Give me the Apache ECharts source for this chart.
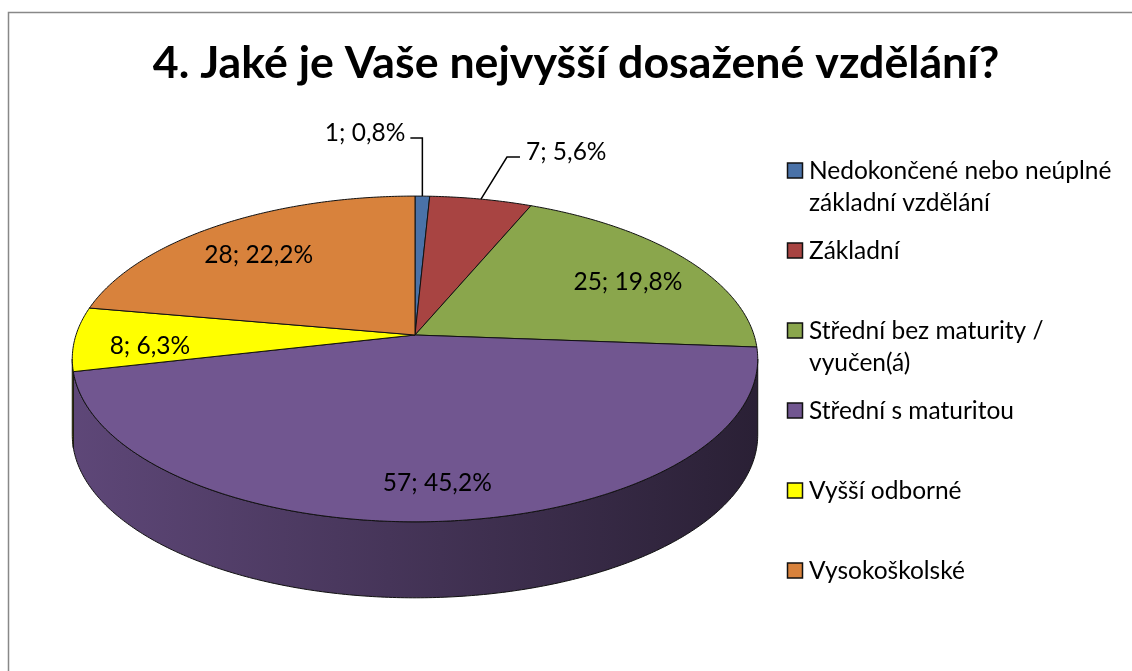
<!DOCTYPE html>
<html><head><meta charset="utf-8">
<script src="https://cdn.jsdelivr.net/npm/echarts@6/dist/echarts.min.js"></script>
<style>html,body{margin:0;padding:0;background:#fff}#c{width:1132px;height:671px}</style>
</head><body><div id="c"></div>
<script>
const titleText = '4. Jaké je Vaše nejvyšší dosažené vzdělání?';
const categories = ['Nedokončené nebo neúplné\nzákladní vzdělání', 'Základní', 'Střední bez maturity /\nvyučen(á)', 'Střední s maturitou', 'Vyšší odborné', 'Vysokoškolské'];
const counts = [1, 7, 25, 57, 8, 28];
const colors = ['#4a72a8', '#a84442', '#8aa64c', '#715690', '#ffff00', '#d8823c'];

const FONT = 'Lato, "Open Sans", sans-serif';
const total = counts.reduce((a, b) => a + b, 0);
const cum = [0];
counts.forEach((v, i) => cum.push(cum[i] + v));
const ang = k => cum[k] / total * Math.PI * 2;

// perspective projection of the pie disk
const CX = 415, A = 339, PA = 110.1, PB = 335, PC = -0.147, DEPTH = 76;
function proj(r, th, dy) {
  const u = r * Math.sin(th), v = -r * Math.cos(th);
  const w = 1 + PC * v;
  return [CX + A * u / w, (PA * v + PB) / w + (dy || 0)];
}
const K = -PC;
const thR = Math.acos(-K), thL = 2 * Math.PI - thR;

function shade(hex, f) {
  const n = parseInt(hex.slice(1), 16);
  const r = Math.round(((n >> 16) & 255) * f), g = Math.round(((n >> 8) & 255) * f), b = Math.round((n & 255) * f);
  return 'rgb(' + r + ',' + g + ',' + b + ')';
}
function arc(s, e, dy) {
  const pts = [];
  const n = Math.max(2, Math.ceil((e - s) / 0.01));
  for (let j = 0; j <= n; j++) pts.push(proj(1, s + (e - s) * j / n, dy));
  return pts;
}

function renderSide(params) {
  const i = params.dataIndex;
  const s = Math.max(ang(i), thR), e = Math.min(ang(i + 1), thL);
  if (e <= s) return { type: 'group', children: [] };
  const top = arc(s, e, 0), bot = arc(s, e, DEPTH).reverse();
  return {
    type: 'polygon',
    shape: { points: top.concat(bot) },
    style: {
      fill: new echarts.graphic.LinearGradient(72, 0, 757, 0, [
        { offset: 0, color: shade(colors[i], 0.83) },
        { offset: 1, color: shade(colors[i], 0.37) }
      ], true),
      stroke: '#111', lineWidth: 1, lineJoin: 'round'
    }
  };
}

function renderTop(params) {
  const i = params.dataIndex;
  const s = ang(i), e = ang(i + 1), mid = (s + e) / 2;
  const pts = [proj(0, 0)].concat(arc(s, e, 0));
  const children = [{
    type: 'polygon', shape: { points: pts },
    style: { fill: colors[i], stroke: '#111', lineWidth: 1, lineJoin: 'round' }
  }];
  const pct = (counts[i] / total * 100).toFixed(1).replace('.', ',');
  const txt = counts[i] + '; ' + pct + '%';
  if (counts[i] / total < 0.06) {
    const p = proj(1, mid);
    let line, tp, align;
    if (mid < 0.1) {
      line = [p, [p[0], p[1] - 58], [p[0] - 12, p[1] - 58]];
      tp = [p[0] - 17, p[1] - 63]; align = 'right';
    } else {
      line = [p, [p[0] + 26, p[1] - 42], [p[0] + 39, p[1] - 42]];
      tp = [p[0] + 45, p[1] - 47]; align = 'left';
    }
    children.push({ type: 'polyline', z2: 50, shape: { points: line }, style: { stroke: '#000', lineWidth: 1.5, fill: null } });
    children.push({ type: 'text', z2: 60, x: tp[0], y: tp[1], style: { text: txt, font: '24.5px ' + FONT, fill: '#000', align: align, verticalAlign: 'middle' } });
  } else {
    const p = proj(0.78, mid, 8);
    children.push({ type: 'text', z2: 60, x: p[0], y: p[1], style: { text: txt, font: '24.5px ' + FONT, fill: '#000', align: 'center', verticalAlign: 'middle' } });
  }
  return { type: 'group', children: children };
}

const legendItems = [];
categories.forEach((c, i) => {
  const cy = 171 + i * 80;
  legendItems.push({ type: 'rect', shape: { x: 787.5, y: cy - 8, width: 15, height: 15 }, style: { fill: colors[i], stroke: '#111', lineWidth: 1.5 } });
  legendItems.push({ type: 'text', x: 809, y: cy - 16, style: { text: c, font: '24.5px ' + FONT, fill: '#000', lineHeight: 32, verticalAlign: 'top', align: 'left' } });
});

const chart = echarts.init(document.getElementById('c'));
chart.setOption({
  animation: false,
  backgroundColor: '#fff',
  graphic: [
    { type: 'rect', shape: { x: 8.5, y: 12.5, width: 1200, height: 700 }, style: { fill: null, stroke: '#888', lineWidth: 1.5 }, silent: true },
    { type: 'text', x: 576, y: 64, style: { text: titleText, font: 'bold 44.7px ' + FONT, fill: '#000', align: 'center', verticalAlign: 'middle' } },
    { type: 'group', children: legendItems }
  ],
  series: [
    { type: 'custom', name: 'side', coordinateSystem: 'none', renderItem: renderSide, data: counts, z: 1, silent: true },
    { type: 'custom', name: 'top', coordinateSystem: 'none', renderItem: renderTop, data: counts, z: 2 }
  ]
});
</script>
</body></html>
